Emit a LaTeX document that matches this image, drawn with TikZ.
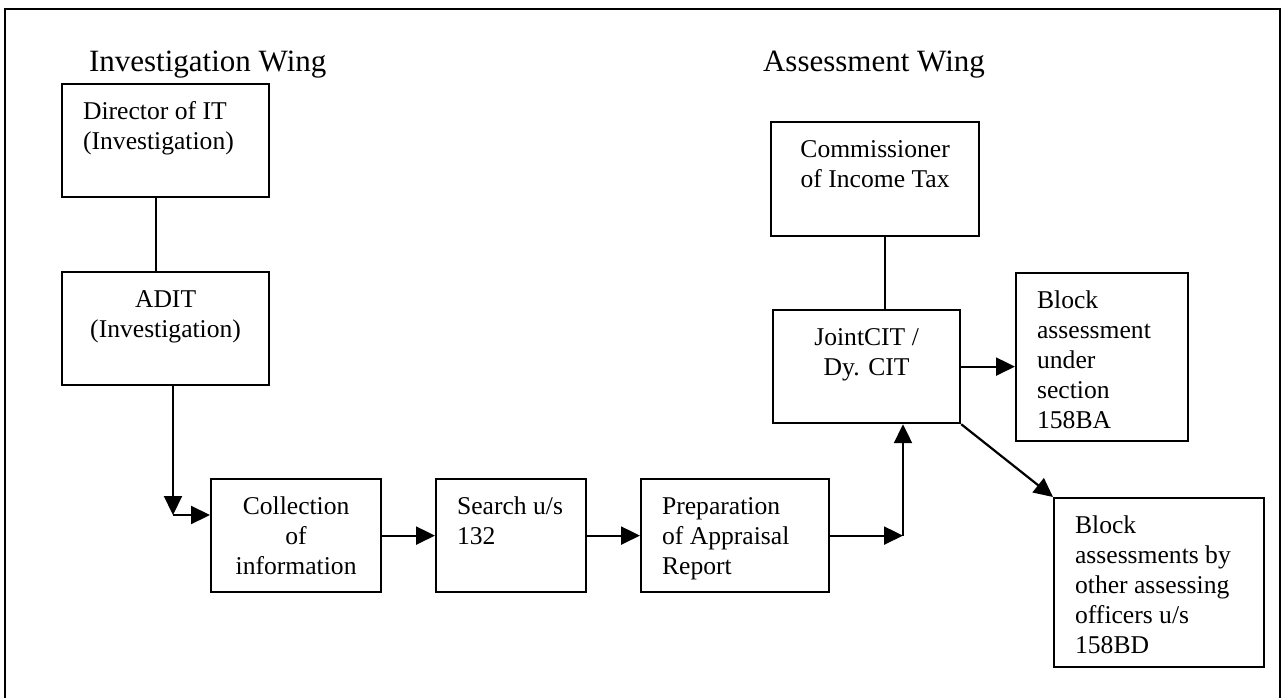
\documentclass[tikz,border=0pt]{standalone}
\usepackage{fontspec}
\setmainfont{Liberation Serif}
\usetikzlibrary{arrows.meta}
\newcommand{\cell}[3]{\parbox[c][#2pt][t]{#1pt}{\strut#3}}

\begin{document}
\begin{tikzpicture}[x=1pt, y=-1pt,
	box/.style={rectangle, draw=black, line width=2.2pt, anchor=north west, inner xsep=21pt, inner ysep=14pt, font=\fontsize{25.6}{30}\selectfont},
	wing/.style={anchor=base west, inner sep=0pt, font=\fontsize{31}{36}\selectfont},
	every path/.style={draw=black, line width=2.2pt},
	arr/.style={-{Triangle[length=19pt, width=18pt]}}]
				\path[use as bounding box, draw=none] (0,0) rectangle (1287,698);
				\path (5,700) -- (5,9) -- (1280,9) -- (1280,700);
				
				\node[wing] (invwing) at (88,72){Investigation Wing};
				\node[wing] (asswing) at (762,72){Assessment Wing};
				
				\node[box] (dir) at (61,83){\cell{165}{85}{Director of IT\\(Investigation)}};
				\node[box] (adit) at (61,271){\cell{165}{85}{\centering ADIT\\(Investigation)}};
				\node[box] (coll) at (210,478){\cell{128}{85}{\centering Collection\\of\\information}};
				\node[box] (search) at (435,478){\cell{108}{85}{Search u/s\\132}};
				\node[box] (prep) at (640,478){\cell{146}{85}{Preparation\\of Appraisal\\Report}};
				\node[box] (comm) at (770,121){\cell{166}{86}{\centering Commissioner\\of Income Tax}};
				\node[box] (joint) at (772,309){\cell{145}{85}{\centering JointCIT /\\Dy. CIT}};
				\node[box] (blk1) at (1015,272){\cell{130}{140}{Block\\assessment\\under\\section\\158BA}};
				\node[box] (blk2) at (1053,497){\cell{168}{141}{Block\\assessments by\\other assessing\\officers u/s\\158BD}};
				
				\coordinate (elbow) at (173,515);
				\coordinate (up) at (903,0);
				
				\path ([xshift=-9.5pt]dir.south) -- ([xshift=-9.5pt]adit.north);
				\path ([xshift=10pt]comm.south) -- ([xshift=10pt]comm.south |- joint.north);
				\path[arr] (adit.south -| elbow) -- (elbow);
				\path[arr] (elbow) -- (coll.west |- elbow);
				\path[arr] (coll) -- (search);
				\path[arr] (search) -- (prep);
				\path[arr] (prep.east) -- (prep.east -| up);
				\path[arr] (prep.east -| up) -- (up |- joint.south);
				\path[arr] (joint.east) -- (joint.east -| blk1.west);
				\path[arr] (joint.south east) -- (blk2.north west);
				\end{tikzpicture}
\end{document}
